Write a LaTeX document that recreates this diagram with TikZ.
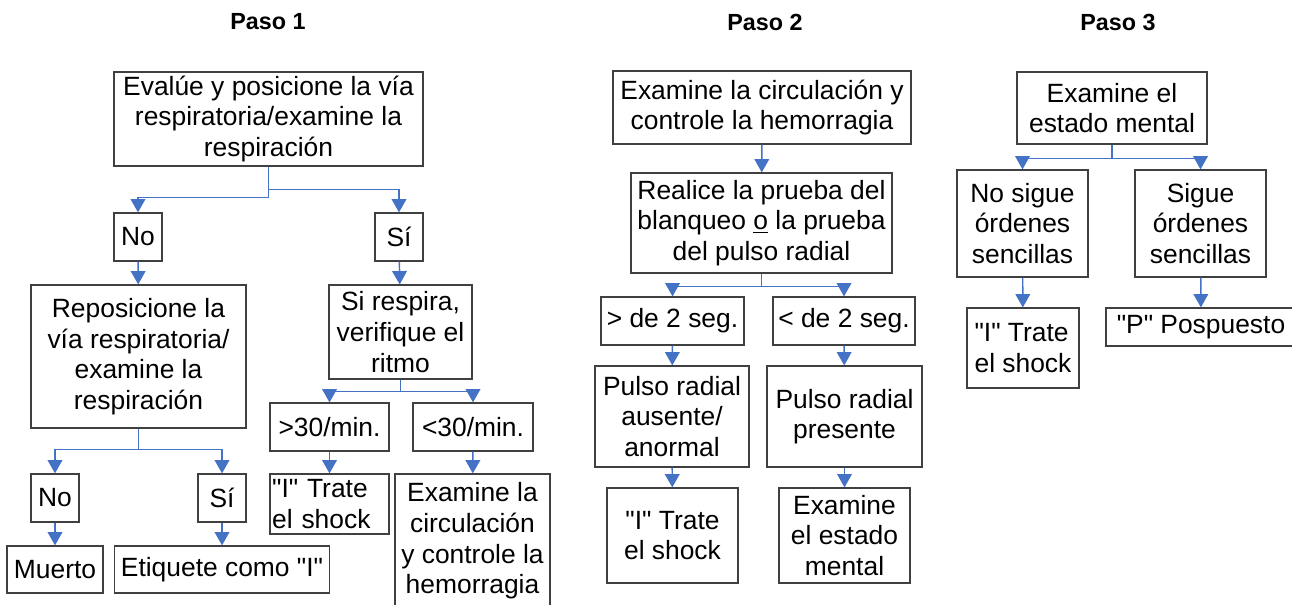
\documentclass[tikz,border=0pt]{standalone}
\usepackage{fontspec}
\setmainfont{Liberation Sans}[Ligatures=TeXOff]
\usetikzlibrary{arrows.meta}
\definecolor{linkblue}{HTML}{4472C4}
\definecolor{boxgray}{HTML}{404040}
\begin{document}
\begin{tikzpicture}[x=0.75pt, y=-0.75pt,
  box/.style={draw=boxgray, line width=0.9pt, inner sep=0pt, align=center, font=\fontsize{19.8}{23}\selectfont},
  title/.style={font=\fontsize{17.5}{21}\selectfont\bfseries},
  link/.style={draw=linkblue, line width=1.1pt, -{Triangle[width=11pt,length=10pt]}}]
\useasboundingbox (0,0) rectangle (1292,604);
\fill[white] (0,0) rectangle (1292,604);
\clip (0,0) rectangle (1292,604);

\node (p1) at (268,22) [title] {Paso 1};
\node (p2) at (765,22) [title] {Paso 2};
\node (p3) at (1118,22) [title] {Paso 3};

\node (eval) at (268.5,119) [box, minimum width=231.75pt, minimum height=70.5pt] {Evalúe y posicione la vía\\respiratoria/examine la\\respiración};
\node (no1) at (138,237) [box, minimum width=36pt, minimum height=36pt] {No};
\node (si1) at (399,237) [box, minimum width=36pt, minimum height=36pt] {Sí};
\node (repos) at (138.5,356.5) [box, minimum width=161.25pt, minimum height=107.25pt] {Reposicione la\\vía respiratoria/\\examine la\\respiración};
\node (sirespira) at (400.5,332) [box, minimum width=107.25pt, minimum height=70.5pt] {Si respira,\\verifique el\\ritmo};
\node (no2) at (55,498) [box, minimum width=36pt, minimum height=36pt] {No};
\node (si2) at (222,498) [box, minimum width=36pt, minimum height=36pt] {Sí};
\node (muerto) at (55,569.5) [box, minimum width=72pt, minimum height=35.25pt] {Muerto};
\node (etiq) at (222,569.5) [box, minimum width=161.25pt, minimum height=35.25pt] {Etiquete como "I"};
\node (mas30) at (329.5,427) [box, minimum width=89.25pt, minimum height=36pt] {>30/min.};
\node (menos30) at (473,427) [box, minimum width=90pt, minimum height=36pt] {<30/min.};
\node (shock1) at (329.5,504) [box, align=left, text width=86pt, minimum width=89.25pt, minimum height=45pt] {"I" Trate\\el shock};
\node (circ1) at (472.5,541) [box, minimum width=116.25pt, minimum height=100.5pt] {Examine la\\circulación\\y controle la\\hemorragia};

\node (circ2) at (762,107.5) [box, minimum width=223.5pt, minimum height=54.75pt] {Examine la circulación y\\controle la hemorragia};
\node (prueba) at (761.5,223) [box, minimum width=195.75pt, minimum height=75pt] {Realice la prueba del\\blanqueo \underline{o} la prueba\\del pulso radial};
\node (mas2) at (672.5,321) [box, minimum width=107.25pt, minimum height=36pt] {> de 2 seg.};
\node (menos2) at (844,321) [box, minimum width=106.5pt, minimum height=36pt] {< de 2 seg.};
\node (ausente) at (672,416.5) [box, minimum width=115.5pt, minimum height=75.75pt] {Pulso radial\\ausente/\\anormal};
\node (presente) at (844.5,416.5) [box, minimum width=116.25pt, minimum height=75.75pt] {Pulso radial\\presente};
\node (shock2) at (672.5,535.5) [box, minimum width=98.25pt, minimum height=71.25pt] {"I" Trate\\el shock};
\node (mental2) at (844.5,535.5) [box, minimum width=98.25pt, minimum height=71.25pt] {Examine\\el estado\\mental};

\node (mental3) at (1112,108) [box, minimum width=142.5pt, minimum height=54pt] {Examine el\\estado mental};
\node (nosigue) at (1022.5,223.5) [box, minimum width=98.25pt, minimum height=80.25pt] {No sigue\\órdenes\\sencillas};
\node (sigue) at (1200.5,223.5) [box, minimum width=98.25pt, minimum height=80.25pt] {Sigue\\órdenes\\sencillas};
\node (shock3) at (1023,348) [box, align=left, minimum width=84pt, minimum height=60pt] {"I" Trate\\el shock};
\node (pospuesto) at (1201,327) [box, minimum width=142.5pt, minimum height=28.5pt] {"P" Pospuesto};

\draw[link] (eval.south) -- ++(0,31) -| (no1);
\draw[link] (eval.south) -- ++(0,23) -| (si1);
\draw[link] (no1) to (repos);
\draw[link] (si1) to (sirespira);
\draw[link] (repos.south) -- ++(0,21) -| (no2);
\draw[link] (repos.south) -- ++(0,21) -| (si2);
\draw[link] (no2) to (muerto);
\draw[link] (si2) to (etiq);
\draw[link] (sirespira.south) -- ++(0,12) -| (mas30);
\draw[link] (sirespira.south) -- ++(0,12) -| (menos30);
\draw[link] (mas30) to (shock1);
\draw[link] (menos30) to (circ1);

\draw[link] (circ2) to (prueba);
\draw[link] (prueba.south) -- ++(0,13) -| (mas2);
\draw[link] (prueba.south) -- ++(0,13) -| (menos2);
\draw[link] (mas2) to (ausente);
\draw[link] (menos2) to (presente);
\draw[link] (ausente) to (shock2);
\draw[link] (presente) to (mental2);

\draw[link] (mental3.south) -- ++(0,14) -| (nosigue);
\draw[link] (mental3.south) -- ++(0,14) -| (sigue);
\draw[link] (nosigue) to (shock3);
\draw[link] (sigue) to (pospuesto);
\end{tikzpicture}
\end{document}
